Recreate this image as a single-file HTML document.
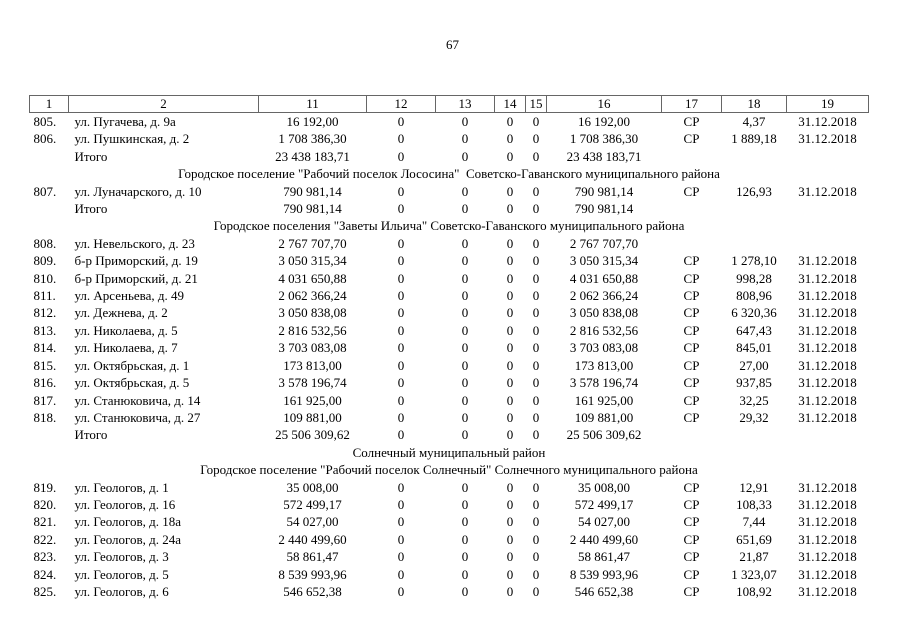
<!DOCTYPE html>
<html><head><meta charset="utf-8"><style>
body{margin:0;width:905px;height:640px;background:#fff;font-family:"Liberation Serif",serif;font-size:13px;color:#000;position:relative;overflow:hidden}
.pg{position:absolute;left:0;width:905px;top:37px;text-align:center}
table{position:absolute;left:29px;top:95px;border-collapse:collapse;table-layout:fixed;width:839px}
td{padding:0;height:17.4px;line-height:17.4px;text-align:center;white-space:nowrap;overflow:visible}
tr.h td{border:1px solid #666;height:16px;line-height:16px}
td.a{text-align:left;padding-left:6px}
td.n{text-align:left;padding-left:4px}
td.s{text-align:center}
</style></head><body>
<div class="pg">67</div>
<table>
<colgroup><col style="width:39px"><col style="width:190px"><col style="width:108px"><col style="width:69px"><col style="width:59px"><col style="width:31px"><col style="width:21px"><col style="width:115px"><col style="width:60px"><col style="width:65px"><col style="width:82px"></colgroup>
<tr class="h"><td>1</td><td>2</td><td>11</td><td>12</td><td>13</td><td>14</td><td>15</td><td>16</td><td>17</td><td>18</td><td>19</td></tr>
<tr><td class="n">805.</td><td class="a">ул. Пугачева, д. 9а</td><td>16 192,00</td><td>0</td><td>0</td><td>0</td><td>0</td><td>16 192,00</td><td>СР</td><td>4,37</td><td>31.12.2018</td></tr>
<tr><td class="n">806.</td><td class="a">ул. Пушкинская, д. 2</td><td>1 708 386,30</td><td>0</td><td>0</td><td>0</td><td>0</td><td>1 708 386,30</td><td>СР</td><td>1 889,18</td><td>31.12.2018</td></tr>
<tr><td></td><td class="a">Итого</td><td>23 438 183,71</td><td>0</td><td>0</td><td>0</td><td>0</td><td>23 438 183,71</td><td></td><td></td><td></td></tr>
<tr><td colspan="11" class="s">Городское поселение "Рабочий поселок Лососина"&nbsp; Советско-Гаванского муниципального района</td></tr>
<tr><td class="n">807.</td><td class="a">ул. Луначарского, д. 10</td><td>790 981,14</td><td>0</td><td>0</td><td>0</td><td>0</td><td>790 981,14</td><td>СР</td><td>126,93</td><td>31.12.2018</td></tr>
<tr><td></td><td class="a">Итого</td><td>790 981,14</td><td>0</td><td>0</td><td>0</td><td>0</td><td>790 981,14</td><td></td><td></td><td></td></tr>
<tr><td colspan="11" class="s">Городское поселения "Заветы Ильича" Советско-Гаванского муниципального района</td></tr>
<tr><td class="n">808.</td><td class="a">ул. Невельского, д. 23</td><td>2 767 707,70</td><td>0</td><td>0</td><td>0</td><td>0</td><td>2 767 707,70</td><td></td><td></td><td></td></tr>
<tr><td class="n">809.</td><td class="a">б-р Приморский, д. 19</td><td>3 050 315,34</td><td>0</td><td>0</td><td>0</td><td>0</td><td>3 050 315,34</td><td>СР</td><td>1 278,10</td><td>31.12.2018</td></tr>
<tr><td class="n">810.</td><td class="a">б-р Приморский, д. 21</td><td>4 031 650,88</td><td>0</td><td>0</td><td>0</td><td>0</td><td>4 031 650,88</td><td>СР</td><td>998,28</td><td>31.12.2018</td></tr>
<tr><td class="n">811.</td><td class="a">ул. Арсеньева, д. 49</td><td>2 062 366,24</td><td>0</td><td>0</td><td>0</td><td>0</td><td>2 062 366,24</td><td>СР</td><td>808,96</td><td>31.12.2018</td></tr>
<tr><td class="n">812.</td><td class="a">ул. Дежнева, д. 2</td><td>3 050 838,08</td><td>0</td><td>0</td><td>0</td><td>0</td><td>3 050 838,08</td><td>СР</td><td>6 320,36</td><td>31.12.2018</td></tr>
<tr><td class="n">813.</td><td class="a">ул. Николаева, д. 5</td><td>2 816 532,56</td><td>0</td><td>0</td><td>0</td><td>0</td><td>2 816 532,56</td><td>СР</td><td>647,43</td><td>31.12.2018</td></tr>
<tr><td class="n">814.</td><td class="a">ул. Николаева, д. 7</td><td>3 703 083,08</td><td>0</td><td>0</td><td>0</td><td>0</td><td>3 703 083,08</td><td>СР</td><td>845,01</td><td>31.12.2018</td></tr>
<tr><td class="n">815.</td><td class="a">ул. Октябрьская, д. 1</td><td>173 813,00</td><td>0</td><td>0</td><td>0</td><td>0</td><td>173 813,00</td><td>СР</td><td>27,00</td><td>31.12.2018</td></tr>
<tr><td class="n">816.</td><td class="a">ул. Октябрьская, д. 5</td><td>3 578 196,74</td><td>0</td><td>0</td><td>0</td><td>0</td><td>3 578 196,74</td><td>СР</td><td>937,85</td><td>31.12.2018</td></tr>
<tr><td class="n">817.</td><td class="a">ул. Станюковича, д. 14</td><td>161 925,00</td><td>0</td><td>0</td><td>0</td><td>0</td><td>161 925,00</td><td>СР</td><td>32,25</td><td>31.12.2018</td></tr>
<tr><td class="n">818.</td><td class="a">ул. Станюковича, д. 27</td><td>109 881,00</td><td>0</td><td>0</td><td>0</td><td>0</td><td>109 881,00</td><td>СР</td><td>29,32</td><td>31.12.2018</td></tr>
<tr><td></td><td class="a">Итого</td><td>25 506 309,62</td><td>0</td><td>0</td><td>0</td><td>0</td><td>25 506 309,62</td><td></td><td></td><td></td></tr>
<tr><td colspan="11" class="s">Солнечный муниципальный район</td></tr>
<tr><td colspan="11" class="s">Городское поселение "Рабочий поселок Солнечный" Солнечного муниципального района</td></tr>
<tr><td class="n">819.</td><td class="a">ул. Геологов, д. 1</td><td>35 008,00</td><td>0</td><td>0</td><td>0</td><td>0</td><td>35 008,00</td><td>СР</td><td>12,91</td><td>31.12.2018</td></tr>
<tr><td class="n">820.</td><td class="a">ул. Геологов, д. 16</td><td>572 499,17</td><td>0</td><td>0</td><td>0</td><td>0</td><td>572 499,17</td><td>СР</td><td>108,33</td><td>31.12.2018</td></tr>
<tr><td class="n">821.</td><td class="a">ул. Геологов, д. 18а</td><td>54 027,00</td><td>0</td><td>0</td><td>0</td><td>0</td><td>54 027,00</td><td>СР</td><td>7,44</td><td>31.12.2018</td></tr>
<tr><td class="n">822.</td><td class="a">ул. Геологов, д. 24а</td><td>2 440 499,60</td><td>0</td><td>0</td><td>0</td><td>0</td><td>2 440 499,60</td><td>СР</td><td>651,69</td><td>31.12.2018</td></tr>
<tr><td class="n">823.</td><td class="a">ул. Геологов, д. 3</td><td>58 861,47</td><td>0</td><td>0</td><td>0</td><td>0</td><td>58 861,47</td><td>СР</td><td>21,87</td><td>31.12.2018</td></tr>
<tr><td class="n">824.</td><td class="a">ул. Геологов, д. 5</td><td>8 539 993,96</td><td>0</td><td>0</td><td>0</td><td>0</td><td>8 539 993,96</td><td>СР</td><td>1 323,07</td><td>31.12.2018</td></tr>
<tr><td class="n">825.</td><td class="a">ул. Геологов, д. 6</td><td>546 652,38</td><td>0</td><td>0</td><td>0</td><td>0</td><td>546 652,38</td><td>СР</td><td>108,92</td><td>31.12.2018</td></tr>
</table>
</body></html>
